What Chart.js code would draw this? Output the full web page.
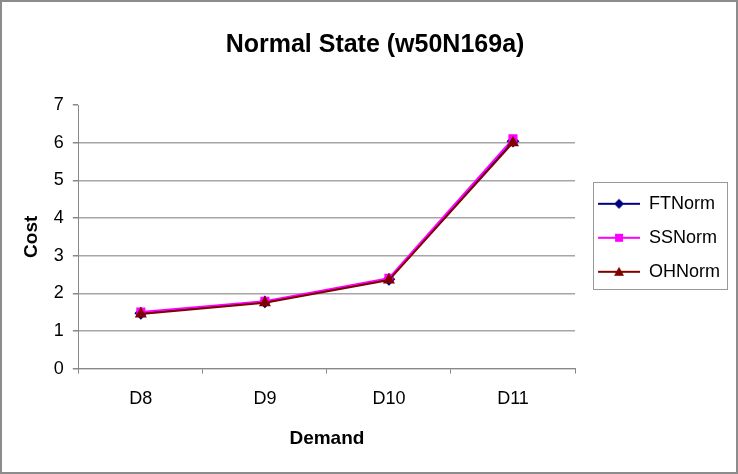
<!DOCTYPE html>
<html>
<head>
<meta charset="utf-8">
<script src="https://cdn.jsdelivr.net/npm/chart.js@4.4.1/dist/chart.umd.min.js"></script>
<style>
  html, body { margin: 0; padding: 0; background: #fff; }
  #wrap { position: relative; width: 738px; height: 474px; box-sizing: border-box; border: 2px solid #8c8c8c; }
  #c { display: block; }
</style>
</head>
<body>
<div id="wrap"><canvas id="c" width="734" height="470"></canvas></div>
<script>
// ===== data =====
const demands = ["D8", "D9", "D10", "D11"];
const ftNorm = [1.47, 1.77, 2.37, 6.04];
const ssNorm = [1.50, 1.79, 2.40, 6.10];
const ohNorm = [1.45, 1.75, 2.35, 6.00];
const yTicks = [0, 1, 2, 3, 4, 5, 6, 7];

const FONT = "'Liberation Sans', Arial, Helvetica, sans-serif";

// legend sample: short line with marker in the middle (left 7px kept empty)
function legendIcon(color, shape) {
  const cv = document.createElement("canvas");
  cv.width = 49; cv.height = 14;
  const ctx = cv.getContext("2d");
  ctx.strokeStyle = color;
  ctx.lineWidth = 2;
  ctx.beginPath(); ctx.moveTo(7, 7); ctx.lineTo(49, 7); ctx.stroke();
  ctx.fillStyle = color;
  ctx.beginPath();
  if (shape === "rectRot") {
    ctx.moveTo(28, 2); ctx.lineTo(33, 7); ctx.lineTo(28, 12); ctx.lineTo(23, 7);
  } else if (shape === "rect") {
    ctx.rect(24, 3, 8, 8);
  } else {
    ctx.moveTo(28, 2); ctx.lineTo(33, 11); ctx.lineTo(23, 11);
  }
  ctx.closePath(); ctx.fill();
  return cv;
}

const series = [
  { label: "FTNorm", data: ftNorm, color: "#000080", shape: "rectRot", order: 3 },
  { label: "SSNorm", data: ssNorm, color: "#ff00ff", shape: "rect", order: 2 },
  { label: "OHNorm", data: ohNorm, color: "#800000", shape: "triangle", order: 1 }
];

// frame around the legend entries
const legendBorder = {
  id: "legendBorder",
  afterDraw(chart) {
    const l = chart.legend;
    const hb = l.legendHitBoxes;
    if (!hb || !hb.length) return;
    const ctx = chart.ctx;
    const x0 = Math.round(l.left + 18) + 0.5;
    const y0 = Math.round(hb[0].top - 13) + 0.5;
    const y1 = Math.round(hb[hb.length - 1].top + hb[hb.length - 1].height + 8) + 0.5;
    ctx.save();
    ctx.strokeStyle = "#999";
    ctx.lineWidth = 1;
    ctx.strokeRect(x0, y0, 134, y1 - y0);
    ctx.restore();
  }
};

new Chart(document.getElementById("c"), {
  type: "line",
  data: {
    labels: demands,
    datasets: series.map(s => ({
      label: s.label,
      data: s.data,
      borderColor: s.color,
      backgroundColor: s.color,
      borderWidth: 2,
      pointStyle: s.shape,
      pointRadius: 5,
      pointHoverRadius: 5,
      order: s.order,
      tension: 0
    }))
  },
  options: {
    responsive: false,
    animation: false,
    layout: { padding: { left: 18, right: 6, top: 8, bottom: 22 } },
    plugins: {
      tooltip: { enabled: false },
      title: {
        display: true,
        text: "Normal State (w50N169a)",
        color: "#000",
        font: { family: FONT, size: 25, weight: "bold" },
        padding: { top: 20, bottom: 45 }
      },
      legend: {
        position: "right",
        align: "center",
        title: { display: true, text: " ", font: { size: 8 }, padding: 3 },
        labels: {
          color: "#000",
          font: { family: FONT, size: 18 },
          usePointStyle: true,
          pointStyleWidth: 49,
          boxHeight: 14,
          padding: 16,
          sort: (a, b) => a.datasetIndex - b.datasetIndex,
          generateLabels: chart => series.map((s, i) => ({
            text: s.label,
            datasetIndex: i,
            pointStyle: legendIcon(s.color, s.shape),
            fontColor: "#000",
            lineWidth: 0,
            strokeStyle: "transparent",
            fillStyle: "transparent"
          }))
        }
      }
    },
    scales: {
      x: {
        offset: true,
        grid: { offset: true, drawOnChartArea: false, drawTicks: true, tickLength: 5, color: "#888" },
        border: { display: true, color: "#888" },
        ticks: { color: "#000", font: { family: FONT, size: 18 }, padding: 15 },
        title: { display: true, text: "Demand", color: "#000", font: { family: FONT, size: 19, weight: "bold" }, padding: { top: 2, bottom: 0 } }
      },
      y: {
        min: 0,
        max: 7,
        afterBuildTicks: axis => { axis.ticks = yTicks.map(v => ({ value: v })); },
        grid: {
          color: ctx => (ctx.tick && ctx.tick.value === 7 ? "rgba(0,0,0,0)" : "#a6a6a6"),
          tickColor: "#888",
          tickLength: 6,
          lineWidth: 1.5
        },
        border: { display: true, color: "#888" },
        ticks: { color: "#000", font: { family: FONT, size: 18 }, padding: 9 },
        title: { display: true, text: "Cost", color: "#000", font: { family: FONT, size: 19, weight: "bold" }, padding: { top: 0, bottom: 2 } }
      }
    }
  },
  plugins: [legendBorder]
});
</script>
</body>
</html>
